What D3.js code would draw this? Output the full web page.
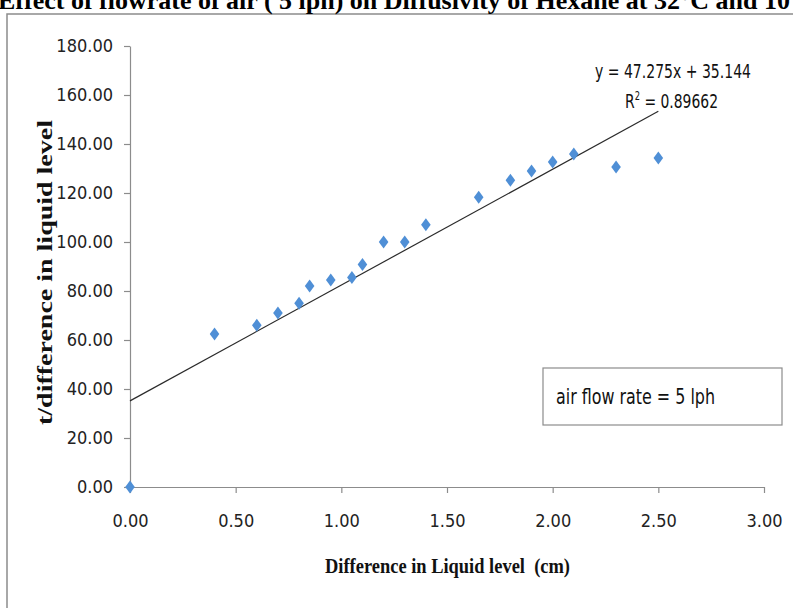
<!DOCTYPE html>
<html><head><meta charset="utf-8">
<script src="https://cdn.jsdelivr.net/npm/d3@7"></script>
<style>
body{margin:0;background:#fff;overflow:hidden;}
svg{display:block;}
.cond{font-family:"DejaVu Sans Condensed","DejaVu Sans",sans-serif;font-stretch:condensed;}
.tick text{font-family:"DejaVu Sans Condensed","DejaVu Sans",sans-serif;font-stretch:condensed;font-size:18px;fill:#222;}
</style></head>
<body><svg id="c" width="793" height="608"></svg>
<script>
const xValues = [0, 0.4, 0.6, 0.7, 0.8, 0.85, 0.95, 1.05, 1.1, 1.2, 1.3, 1.4, 1.65, 1.8, 1.9, 2.0, 2.1, 2.3, 2.5];
const yValues = [0, 62.5, 66, 71, 75, 82, 84.5, 85.5, 90.8, 100, 100, 107, 118.3, 125.2, 129, 132.7, 135.9, 130.6, 134.3];
const xTicks = [0, 0.5, 1.0, 1.5, 2.0, 2.5, 3.0];
const yTicks = [0, 20, 40, 60, 80, 100, 120, 140, 160, 180];
const slope = 47.275, intercept = 35.144, r2 = "0.89662";
const titleText = "Effect of flowrate of air ( 5 lph) on Diffusivity of Hexane at 32°C and 10 cm";
const xTitle = "Difference in Liquid level  (cm)";
const yTitle = "t/difference in liquid level";
const noteText = "air flow rate = 5 lph";

const svg = d3.select("#c");
const W = 793, H = 608;
const serif = "'Liberation Serif','Times New Roman',serif";
svg.append("rect").attr("x",0).attr("y",0).attr("width",W).attr("height",H).attr("fill","#fff");

// frame
svg.append("rect").attr("x",7).attr("y",14).attr("width",W+20).attr("height",H+20)
  .attr("fill","none").attr("stroke","#8c8c8c").attr("stroke-width",1.5);

// title (cut off at top, as in the reference)
svg.append("text").attr("x",-2).attr("y",9)
  .attr("font-family",serif).attr("font-weight","bold")
  .attr("font-size",26).attr("fill","#000").text(titleText);

const x = d3.scaleLinear().domain([0,3]).range([130,764]);
const y = d3.scaleLinear().domain([0,180]).range([487,46]);

const gx = svg.append("g").attr("transform","translate(0,487)")
  .call(d3.axisBottom(x).tickValues(xTicks).tickFormat(d3.format(".2f")).tickSize(6).tickPadding(21).tickSizeOuter(0));
const gy = svg.append("g").attr("transform","translate(130,0)")
  .call(d3.axisLeft(y).tickValues(yTicks).tickFormat(d3.format(".2f")).tickSize(6).tickPadding(11).tickSizeOuter(0));
[gx,gy].forEach(g=>{
  g.select(".domain").attr("stroke","#8c8c8c").attr("stroke-width",1.2);
  g.selectAll(".tick line").attr("stroke","#8c8c8c").attr("stroke-width",1.2);
});

// trendline
const xMax = d3.max(xValues);
svg.append("line")
  .attr("x1",x(0)).attr("y1",y(intercept))
  .attr("x2",x(xMax)).attr("y2",y(slope*xMax+intercept))
  .attr("stroke","#2b2b2b").attr("stroke-width",1.2);

// points
const diamond = "M0,-6.5L4.8,0L0,6.5L-4.8,0Z";
svg.append("g").selectAll("path").data(xValues.map((d,i)=>[d,yValues[i]])).join("path")
  .attr("d",diamond).attr("transform",d=>`translate(${x(d[0])},${y(d[1])})`)
  .attr("fill","#4f8fd6");

// equation
svg.append("text").attr("class","cond").attr("x",595).attr("y",78)
  .attr("font-size",20).attr("fill","#111")
  .attr("textLength",156).attr("lengthAdjust","spacingAndGlyphs")
  .text(`y = ${slope}x + ${intercept}`);
const r = svg.append("text").attr("class","cond").attr("x",625).attr("y",108)
  .attr("font-size",20).attr("fill","#111")
  .attr("textLength",93).attr("lengthAdjust","spacingAndGlyphs");
r.append("tspan").text("R");
r.append("tspan").attr("dy",-8).attr("font-size",12).text("2");
r.append("tspan").attr("dy",8).text(` = ${r2}`);

// note box
svg.append("rect").attr("x",543).attr("y",368).attr("width",239).attr("height",57)
  .attr("fill","#fff").attr("stroke","#8c8c8c").attr("stroke-width",1.2);
svg.append("text").attr("class","cond").attr("x",556).attr("y",404)
  .attr("font-size",21).attr("fill","#111")
  .attr("textLength",159).attr("lengthAdjust","spacingAndGlyphs").text(noteText);

// axis titles
svg.append("text").attr("x",325).attr("y",573).style("white-space","pre")
  .attr("font-family",serif).attr("font-weight","bold")
  .attr("font-size",20).attr("fill","#111")
  .attr("textLength",245).attr("lengthAdjust","spacingAndGlyphs").text(xTitle);
svg.append("text").attr("transform","translate(52,425) rotate(-90)")
  .attr("font-family",serif).attr("font-weight","bold")
  .attr("font-size",21).attr("fill","#111")
  .attr("textLength",305).attr("lengthAdjust","spacingAndGlyphs").text(yTitle);
</script></body></html>
